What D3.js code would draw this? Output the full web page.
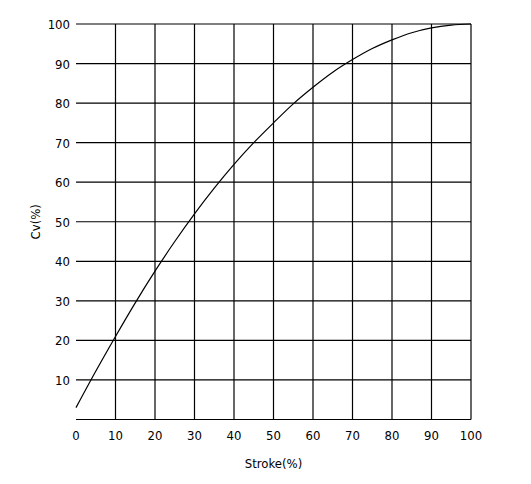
<!DOCTYPE html>
<html><head><meta charset="utf-8">
<script src="https://cdn.jsdelivr.net/npm/d3@7"></script>
<style>body{margin:0;background:#fff}text{font-family:"DejaVu Sans",sans-serif;font-stretch:condensed;font-size:13px;fill:#000}</style>
</head><body><svg id="c" width="531" height="484"></svg>
<script>
const strokePct = [0, 5, 10, 15, 20, 25, 30, 35, 40, 45, 50, 55, 60, 65, 70, 75, 80, 85, 90, 95, 100]
const cvPct = [3, 12.2, 21, 29.5, 37.5, 45, 52, 58.5, 64.5, 70, 75, 79.8, 84, 87.8, 91, 93.8, 96, 97.8, 99, 99.7, 100]
const ticks = [0, 10, 20, 30, 40, 50, 60, 70, 80, 90, 100]

const svg = d3.select('#c')
const x = d3.scaleLinear().domain([0, 100]).range([76, 471])
const y = d3.scaleLinear().domain([0, 100]).range([419.5, 24])

// grid
svg.selectAll('line.v').data(ticks.filter(d => d > 0)).join('line')
  .attr('x1', d => x(d)).attr('x2', d => x(d)).attr('y1', y(0)).attr('y2', y(100))
  .attr('stroke', '#000').attr('stroke-width', 1.2)
svg.selectAll('line.h').data(ticks).join('line')
  .attr('x1', x(0)).attr('x2', x(100)).attr('y1', d => y(d)).attr('y2', d => y(d))
  .attr('stroke', '#000').attr('stroke-width', 1.2)

// labels
svg.selectAll('text.xt').data(ticks).join('text')
  .attr('x', d => x(d)).attr('y', y(0) + 20).attr('text-anchor', 'middle').text(d => d)
svg.selectAll('text.yt').data(ticks.filter(d => d > 0)).join('text')
  .attr('x', 70).attr('y', d => y(d) + 5).attr('text-anchor', 'end').text(d => d)

svg.append('text').attr('x', x(50)).attr('y', 468).attr('text-anchor', 'middle').text('Stroke(%)')
svg.append('text').attr('transform', `translate(40,${y(50)}) rotate(-90)`).attr('text-anchor', 'middle').text('Cv(%)')

// curve
svg.append('path').datum(strokePct.map((s, i) => [s, cvPct[i]]))
  .attr('d', d3.line().x(d => x(d[0])).y(d => y(d[1])).curve(d3.curveMonotoneX))
  .attr('fill', 'none').attr('stroke', '#000').attr('stroke-width', 1.2)
</script></body></html>
